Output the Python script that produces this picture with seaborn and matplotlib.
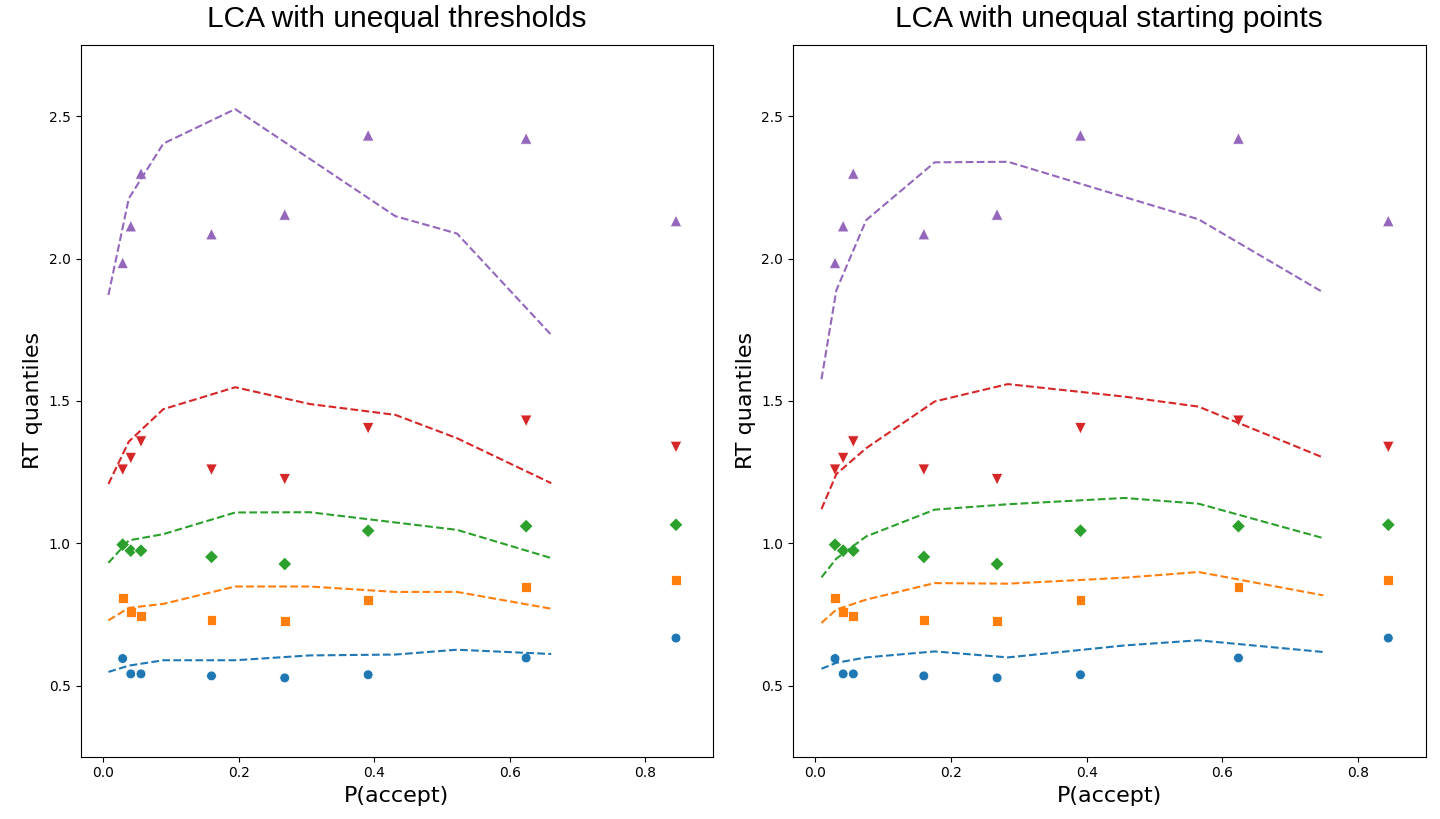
import matplotlib
matplotlib.use("Agg")
import matplotlib.pyplot as plt
import seaborn as sns
import pandas as pd

# observed data (same in both panels)
p_accept_obs = [0.029, 0.041, 0.056, 0.160, 0.268, 0.391, 0.624, 0.845]
rt_obs = {
    "q1": [0.595, 0.541, 0.541, 0.534, 0.527, 0.538, 0.597, 0.667],
    "q2": [0.808, 0.759, 0.745, 0.731, 0.727, 0.802, 0.846, 0.871],
    "q3": [0.995, 0.974, 0.974, 0.952, 0.927, 1.044, 1.060, 1.065],
    "q4": [1.258, 1.299, 1.357, 1.258, 1.225, 1.404, 1.430, 1.338],
    "q5": [1.985, 2.114, 2.299, 2.086, 2.155, 2.433, 2.422, 2.132],
}

# model predictions: unequal thresholds
p_accept_thr = [0.008, 0.038, 0.089, 0.195, 0.305, 0.431, 0.522, 0.661]
rt_thr = {
    "q1": [0.548, 0.570, 0.589, 0.589, 0.606, 0.609, 0.626, 0.611],
    "q2": [0.729, 0.773, 0.787, 0.848, 0.848, 0.829, 0.829, 0.770],
    "q3": [0.931, 1.010, 1.032, 1.108, 1.109, 1.073, 1.047, 0.948],
    "q4": [1.208, 1.357, 1.471, 1.548, 1.489, 1.451, 1.369, 1.211],
    "q5": [1.872, 2.211, 2.404, 2.525, 2.350, 2.149, 2.088, 1.732],
}

# model predictions: unequal starting points
p_accept_sp = [0.009, 0.031, 0.075, 0.176, 0.284, 0.456, 0.565, 0.749]
rt_sp = {
    "q1": [0.559, 0.580, 0.599, 0.620, 0.599, 0.641, 0.659, 0.618],
    "q2": [0.720, 0.767, 0.802, 0.860, 0.858, 0.879, 0.899, 0.817],
    "q3": [0.880, 0.946, 1.024, 1.118, 1.137, 1.159, 1.139, 1.018],
    "q4": [1.120, 1.243, 1.334, 1.498, 1.559, 1.515, 1.480, 1.301],
    "q5": [1.576, 1.889, 2.135, 2.338, 2.340, 2.216, 2.138, 1.881],
}

quantiles = ["q1", "q2", "q3", "q4", "q5"]
markers = ["o", "s", "D", "v", "^"]
marker_sizes = {"q1": 50, "q2": 50, "q3": 50, "q4": 70, "q5": 70}
colors = sns.color_palette("tab10", 5)


def to_long(x, ys):
    rows = []
    for q in quantiles:
        for xi, yi in zip(x, ys[q]):
            rows.append({"p": xi, "rt": yi, "q": q})
    return pd.DataFrame(rows)


df_obs = to_long(p_accept_obs, rt_obs)
panels = [
    ("LCA with unequal thresholds", to_long(p_accept_thr, rt_thr)),
    ("LCA with unequal starting points", to_long(p_accept_sp, rt_sp)),
]

fig, axes = plt.subplots(1, 2, figsize=(14.4, 8.19), dpi=100)
fig.subplots_adjust(left=0.056, right=0.99, bottom=0.076, top=0.945, wspace=0.126)

for ax, (title, df_model) in zip(axes, panels):
    sns.scatterplot(data=df_obs, x="p", y="rt", hue="q", style="q", size="q",
                    sizes=marker_sizes, markers=markers, palette=colors,
                    legend=False, ax=ax)
    sns.lineplot(data=df_model, x="p", y="rt", hue="q", palette=colors,
                 estimator=None, linestyle="--", linewidth=1.5, legend=False, ax=ax)
    ax.set_xlim(-0.033, 0.9)
    ax.set_ylim(0.25, 2.75)
    ax.set_xticks([0.0, 0.2, 0.4, 0.6, 0.8])
    ax.set_yticks([0.5, 1.0, 1.5, 2.0, 2.5])
    ax.set_xlabel("P(accept)", fontsize=16)
    ax.set_ylabel("RT quantiles", fontsize=16)
    ax.set_title(title, fontsize=21.5, family=["Liberation Sans", "DejaVu Sans"], pad=13)

plt.savefig("out.png", dpi=100)
